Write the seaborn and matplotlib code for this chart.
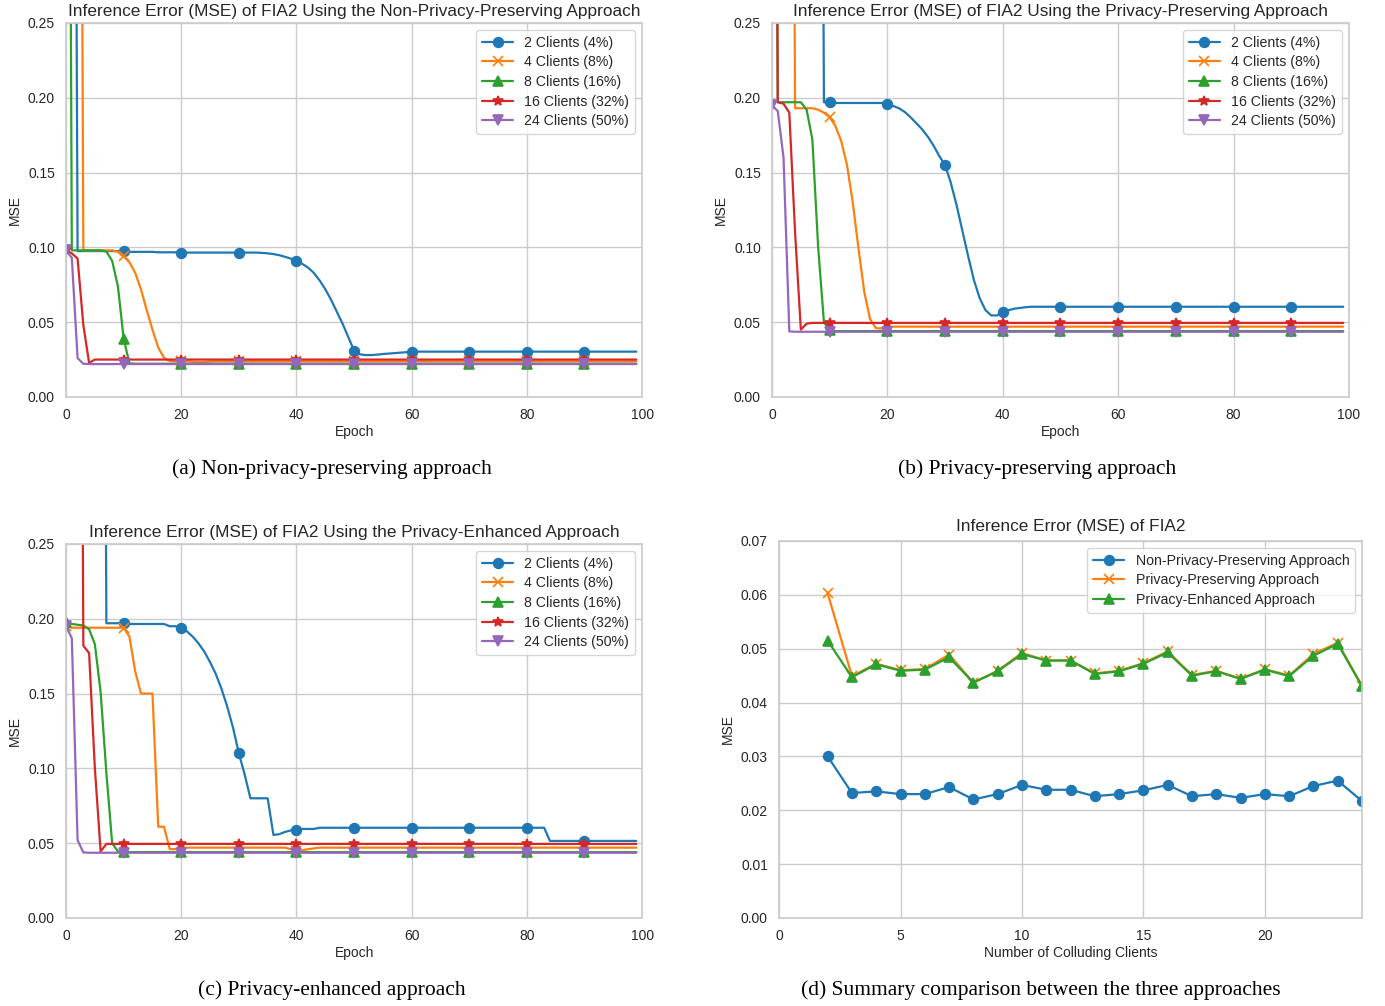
import numpy as np
import pandas as pd
import matplotlib
matplotlib.use('agg')
import matplotlib.pyplot as plt
import seaborn as sns

# epochs shown in panels (a)-(c)
epochs = np.arange(100)

# off-scale start values are drawn as 1.0 (clipped at the top of the axes)
# (a) non-privacy-preserving approach
a_2 = [1.0, 1.0] + [0.0975] * 9 + [0.097] * 5 + [0.0967] * 4 + [0.0965] * 14 + \
      [0.0963, 0.096, 0.0955, 0.0948, 0.0937, 0.0925, 0.091, 0.089, 0.0865, 0.083,
       0.078, 0.072, 0.065, 0.057, 0.049, 0.040, 0.031, 0.0285, 0.028, 0.028,
       0.0283, 0.0287, 0.029, 0.0293, 0.0296, 0.0299, 0.030] + [0.0303] * 39
a_4 = [1.0] * 3 + [0.098] * 6 + \
      [0.097, 0.094, 0.09, 0.083, 0.072, 0.058, 0.045, 0.033, 0.0262, 0.024,
       0.0238, 0.0238, 0.0238, 0.0235, 0.0232, 0.0233, 0.0237] + [0.0238] * 74
a_8 = [1.0] + [0.098] * 6 + [0.0972, 0.091, 0.074, 0.039, 0.0225] + [0.0222] * 88
a_16 = [0.098, 0.096, 0.0925, 0.048, 0.0228, 0.025] + [0.025] * 94
a_24 = [0.098, 0.093, 0.026, 0.0222] + [0.022] * 96

# (b) privacy-preserving approach
b_2 = [1.0] * 9 + [0.197, 0.197] + [0.1965] * 9 + \
      [0.1955, 0.1945, 0.193, 0.1905, 0.187, 0.183, 0.179, 0.174, 0.168, 0.161,
       0.155, 0.143, 0.128, 0.111, 0.094, 0.078, 0.066, 0.058, 0.0545, 0.0545,
       0.0565, 0.058, 0.059, 0.0595, 0.060] + [0.0603] * 55
b_4 = [1.0] * 4 + [0.193] * 4 + \
      [0.192, 0.19, 0.187, 0.181, 0.171, 0.155, 0.13, 0.099, 0.070, 0.052,
       0.046, 0.0458, 0.0465] + [0.047] * 79
b_8 = [1.0] + [0.197] * 5 + [0.192, 0.172, 0.10, 0.050, 0.0445] + [0.044] * 89
b_16 = [1.0, 0.197, 0.196, 0.19, 0.11, 0.045, 0.049] + [0.0495] * 93
b_24 = [0.195, 0.191, 0.16, 0.0438] + [0.0436] * 96

# (c) privacy-enhanced approach
c_2 = [1.0] * 7 + [0.197] * 4 + [0.1965] * 7 + \
      [0.195, 0.195, 0.194, 0.1915, 0.188, 0.1835, 0.178, 0.171, 0.163, 0.153,
       0.141, 0.127, 0.11, 0.096, 0.080, 0.080, 0.080, 0.080, 0.0555, 0.056,
       0.0575, 0.0585, 0.059, 0.0595, 0.0595, 0.0595] + [0.0603] * 40 + [0.0515] * 16
c_4 = [0.195] + [0.194] * 10 + \
      [0.188, 0.165, 0.150, 0.150, 0.150, 0.061, 0.061, 0.046, 0.046, 0.0465] + \
      [0.047] * 18 + [0.046, 0.045, 0.0452, 0.046, 0.0465] + [0.047] * 56
c_8 = [0.198, 0.1965, 0.196, 0.1955, 0.193, 0.183, 0.151, 0.097, 0.05, 0.0445] + [0.044] * 90
c_16 = [1.0] * 3 + [0.182, 0.177, 0.10, 0.0445, 0.0495] + [0.0495] * 92
c_24 = [0.195, 0.187, 0.052, 0.0438] + [0.0436] * 96

# (d) summary vs number of colluding clients
clients = list(range(2, 25))
d_non = [0.0300, 0.0232, 0.0235, 0.0230, 0.0230, 0.0243, 0.0220, 0.0230, 0.0247,
         0.0238, 0.0238, 0.0226, 0.0230, 0.0237, 0.0247, 0.0226, 0.0230, 0.0223,
         0.0230, 0.0226, 0.0245, 0.0255, 0.0217]
d_pp = [0.0603, 0.0449, 0.0472, 0.0460, 0.0462, 0.0489, 0.0437, 0.0459, 0.0492,
        0.0478, 0.0478, 0.0454, 0.0459, 0.0473, 0.0495, 0.0451, 0.0459, 0.0444,
        0.0462, 0.0450, 0.0490, 0.0511, 0.0431]
d_pe = [0.0515, 0.0447, 0.0471, 0.0459, 0.0461, 0.0484, 0.0437, 0.0458, 0.0490,
        0.0478, 0.0478, 0.0453, 0.0458, 0.0472, 0.0493, 0.0450, 0.0458, 0.0444,
        0.0461, 0.0449, 0.0487, 0.0509, 0.0430]

client_labels = ['2 Clients (4%)', '4 Clients (8%)', '8 Clients (16%)',
                 '16 Clients (32%)', '24 Clients (50%)']
approach_labels = ['Non-Privacy-Preserving Approach', 'Privacy-Preserving Approach',
                   'Privacy-Enhanced Approach']

sns.set_theme(style='whitegrid')
plt.rcParams['font.family'] = ['Liberation Sans', 'DejaVu Sans']

pal = sns.color_palette('tab10')
colors = pal[:5]
markers = ['o', 'x', '^', '*', 'v']

fig = plt.figure(figsize=(13.85, 10.06), dpi=100)

def epoch_panel(rect, series, title):
    ax = fig.add_axes(rect)
    for vals, lab, c, m in zip(series, client_labels, colors, markers):
        assert len(vals) == 100
        sns.lineplot(x=epochs, y=vals, ax=ax, color=c, marker=m, markevery=10,
                     markersize=7, markeredgecolor=c, markeredgewidth=1.2,
                     linewidth=1.6, label=lab, errorbar=None)
    ax.set_xlim(0, 100)
    ax.set_ylim(0, 0.25)
    ax.set_xticks([0, 20, 40, 60, 80, 100])
    ax.set_yticks([0, 0.05, 0.10, 0.15, 0.20, 0.25])
    ax.yaxis.set_major_formatter(matplotlib.ticker.FormatStrFormatter('%.2f'))
    ax.set_title(title, fontsize=12.4, pad=5)
    ax.set_xlabel('Epoch', fontsize=10, labelpad=2)
    ax.set_ylabel('MSE', fontsize=10)
    ax.tick_params(labelsize=10, pad=2)
    ax.legend(loc='upper right', fontsize=10.2, labelspacing=0.4, borderpad=0.4,
              handlelength=2.2)
    return ax

epoch_panel([0.0477, 0.6054, 0.4159, 0.3718], [a_2, a_4, a_8, a_16, a_24],
            'Inference Error (MSE) of FIA2 Using the Non-Privacy-Preserving Approach')
epoch_panel([0.5574, 0.6054, 0.4166, 0.3718], [b_2, b_4, b_8, b_16, b_24],
            'Inference Error (MSE) of FIA2 Using the Privacy-Preserving Approach')
epoch_panel([0.0477, 0.0875, 0.4159, 0.3718], [c_2, c_4, c_8, c_16, c_24],
            'Inference Error (MSE) of FIA2 Using the Privacy-Enhanced Approach')

# summary panel
ax = fig.add_axes([0.5625, 0.0875, 0.4209, 0.3748])
for vals, lab, c, m in zip([d_non, d_pp, d_pe], approach_labels, colors[:3], markers[:3]):
    sns.lineplot(x=clients, y=vals, ax=ax, color=c, marker=m, markersize=7,
                 markeredgecolor=c, markeredgewidth=1.2, linewidth=1.6,
                 label=lab, errorbar=None)
ax.set_xlim(0, 24)
ax.set_ylim(0, 0.07)
ax.set_xticks([0, 5, 10, 15, 20])
ax.set_yticks(np.arange(0, 0.071, 0.01))
ax.yaxis.set_major_formatter(matplotlib.ticker.FormatStrFormatter('%.2f'))
ax.set_title('Inference Error (MSE) of FIA2', fontsize=12.4, pad=7)
ax.set_xlabel('Number of Colluding Clients', fontsize=10, labelpad=2)
ax.set_ylabel('MSE', fontsize=10)
ax.tick_params(labelsize=10, pad=2)
ax.legend(loc='upper right', fontsize=10.2, labelspacing=0.4, borderpad=0.4,
          handlelength=2.2)

# sub-figure captions
cap = dict(fontsize=15.5, family='Liberation Serif', ha='center', va='center', color='black')
fig.text(332 / 1385, 1 - 469 / 1006, '(a) Non-privacy-preserving approach', **cap)
fig.text(1037 / 1385, 1 - 469 / 1006, '(b) Privacy-preserving approach', **cap)
fig.text(332 / 1385, 1 - 990 / 1006, '(c) Privacy-enhanced approach', **cap)
fig.text(1041 / 1385, 1 - 990 / 1006, '(d) Summary comparison between the three approaches', **cap)

fig.savefig('out.png', dpi=100)
